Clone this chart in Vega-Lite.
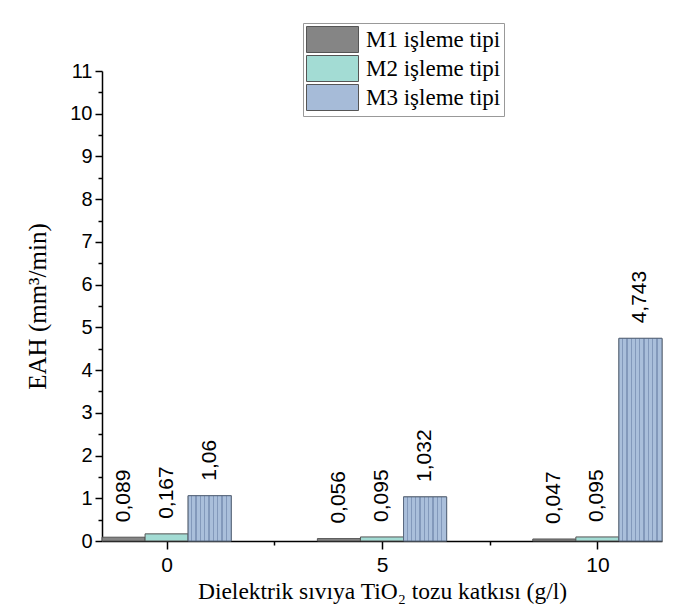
{
  "$schema": "https://vega.github.io/schema/vega-lite/v6.json",
  "width": 560,
  "height": 470,
  "autosize": "none",
  "padding": {"left": 102, "top": 71, "right": 19, "bottom": 72},
  "background": "white",
  "config": {
    "view": {"stroke": null},
    "locale": {"number": {"decimal": ",", "thousands": ".", "grouping": [3], "currency": ["", ""]}}
  },
  "data": {
    "values": [
      {"g": "0", "type": "M1 işleme tipi", "v": 0.089},
      {"g": "0", "type": "M2 işleme tipi", "v": 0.167},
      {"g": "0", "type": "M3 işleme tipi", "v": 1.06},
      {"g": "5", "type": "M1 işleme tipi", "v": 0.056},
      {"g": "5", "type": "M2 işleme tipi", "v": 0.095},
      {"g": "5", "type": "M3 işleme tipi", "v": 1.032},
      {"g": "10", "type": "M1 işleme tipi", "v": 0.047},
      {"g": "10", "type": "M2 işleme tipi", "v": 0.095},
      {"g": "10", "type": "M3 işleme tipi", "v": 4.743}
    ]
  },
  "layer": [
    {
      "encoding": {
        "x": {"field": "g", "type": "ordinal", "sort": ["0", "5", "10"], "scale": {"paddingInner": 0.4, "paddingOuter": 0}, "axis": null},
        "xOffset": {"field": "type", "type": "nominal", "scale": {"domain": ["M1 işleme tipi", "M2 işleme tipi", "M3 işleme tipi"], "paddingInner": 0, "paddingOuter": 0}},
        "y": {
          "field": "v", "type": "quantitative",
          "scale": {"domain": [0, 11], "nice": false},
          "axis": {
            "values": [0, 0.5, 1, 1.5, 2, 2.5, 3, 3.5, 4, 4.5, 5, 5.5, 6, 6.5, 7, 7.5, 8, 8.5, 9, 9.5, 10, 10.5, 11],
            "format": "~g",
            "labelExpr": "datum.value % 1 == 0 ? datum.label : ''",
            "tickSize": {"condition": {"test": "datum.value % 1 != 0", "value": 4}, "value": 7},
            "grid": false,
            "domainColor": "black", "domainWidth": 1.5,
            "tickColor": "black", "tickWidth": 1.5,
            "labelFont": "Liberation Sans", "labelFontSize": 20, "labelColor": "black", "labelPadding": 3,
            "title": "EAH (mm³/min)",
            "titleFont": "Liberation Serif", "titleFontSize": 25, "titleFontWeight": "normal", "titleColor": "black", "titlePadding": 19
          }
        }
      },
      "layer": [
        {
          "mark": {"type": "bar", "stroke": "#555", "strokeWidth": 1},
          "encoding": {
            "fill": {
              "field": "type", "type": "nominal",
              "scale": {
                "domain": ["M1 işleme tipi", "M2 işleme tipi", "M3 işleme tipi"],
                "range": ["#858585", "#a3dcd4", "#a6bbd8"]
              },
              "legend": {
                "orient": "none", "legendX": 201, "legendY": -48,
                "title": null,
                "symbolType": "M-2,-1H2V1H-2Z", "symbolSize": 676, "symbolOffset": 13,
                "symbolStrokeColor": "#555", "symbolStrokeWidth": 1, "symbolOpacity": 1,
                "labelFont": "Liberation Serif", "labelFontSize": 23, "labelColor": "black",
                "labelOffset": 20, "labelLimit": 0, "rowPadding": -3, "padding": 3,
                "strokeColor": "#999", "fillColor": "white"
              }
            }
          }
        },
        {
          "transform": [{"filter": "datum.type == 'M3 işleme tipi'"}],
          "mark": {"type": "bar", "stroke": "#5a6a80", "strokeWidth": 1,
            "color": {"gradient": "linear", "x1": 0, "y1": 0, "x2": 1, "y2": 0, "stops": [
              {"offset": 0, "color": "#aabfdb"}, {"offset": 0.07, "color": "#aabfdb"}, {"offset": 0.07, "color": "#8399bb"}, {"offset": 0.1, "color": "#8399bb"},
              {"offset": 0.1, "color": "#aabfdb"}, {"offset": 0.17, "color": "#aabfdb"}, {"offset": 0.17, "color": "#8399bb"}, {"offset": 0.2, "color": "#8399bb"},
              {"offset": 0.2, "color": "#aabfdb"}, {"offset": 0.27, "color": "#aabfdb"}, {"offset": 0.27, "color": "#8399bb"}, {"offset": 0.3, "color": "#8399bb"},
              {"offset": 0.3, "color": "#aabfdb"}, {"offset": 0.37, "color": "#aabfdb"}, {"offset": 0.37, "color": "#8399bb"}, {"offset": 0.4, "color": "#8399bb"},
              {"offset": 0.4, "color": "#aabfdb"}, {"offset": 0.47, "color": "#aabfdb"}, {"offset": 0.47, "color": "#8399bb"}, {"offset": 0.5, "color": "#8399bb"},
              {"offset": 0.5, "color": "#aabfdb"}, {"offset": 0.57, "color": "#aabfdb"}, {"offset": 0.57, "color": "#8399bb"}, {"offset": 0.6, "color": "#8399bb"},
              {"offset": 0.6, "color": "#aabfdb"}, {"offset": 0.67, "color": "#aabfdb"}, {"offset": 0.67, "color": "#8399bb"}, {"offset": 0.7, "color": "#8399bb"},
              {"offset": 0.7, "color": "#aabfdb"}, {"offset": 0.77, "color": "#aabfdb"}, {"offset": 0.77, "color": "#8399bb"}, {"offset": 0.8, "color": "#8399bb"},
              {"offset": 0.8, "color": "#aabfdb"}, {"offset": 0.87, "color": "#aabfdb"}, {"offset": 0.87, "color": "#8399bb"}, {"offset": 0.9, "color": "#8399bb"},
              {"offset": 0.9, "color": "#aabfdb"}, {"offset": 1, "color": "#aabfdb"}
            ]}
          },
          "encoding": {}
        },
        {
          "mark": {"type": "text", "angle": 270, "align": "left", "baseline": "middle", "dx": 15, "font": "Liberation Sans", "fontSize": 21, "color": "black"},
          "encoding": {
            "text": {"field": "v", "type": "quantitative", "format": "~g"}
          }
        }
      ]
    },
    {
      "mark": {"type": "point", "opacity": 0},
      "encoding": {
        "x": {
          "datum": 0, "type": "quantitative",
          "scale": {"domain": [-1.5, 11.5], "nice": false, "zero": false},
          "axis": {
            "values": [0, 2.5, 5, 7.5, 10],
            "labelExpr": "datum.value % 5 == 0 ? datum.label : ''",
            "tickSize": {"condition": {"test": "datum.value % 5 != 0", "value": 4}, "value": 8},
            "grid": false,
            "domainColor": "black", "domainWidth": 1.5,
            "tickColor": "black", "tickWidth": 1.5,
            "labelFont": "Liberation Sans", "labelFontSize": 21, "labelColor": "black", "labelPadding": 5,
            "title": "Dielektrik sıvıya TiO₂ tozu katkısı (g/l)",
            "titleFont": "Liberation Serif", "titleFontSize": 23.5, "titleFontWeight": "normal", "titleColor": "black", "titlePadding": 4
          }
        }
      }
    }
  ],
  "resolve": {"scale": {"x": "independent"}, "axis": {"x": "independent"}}
}
